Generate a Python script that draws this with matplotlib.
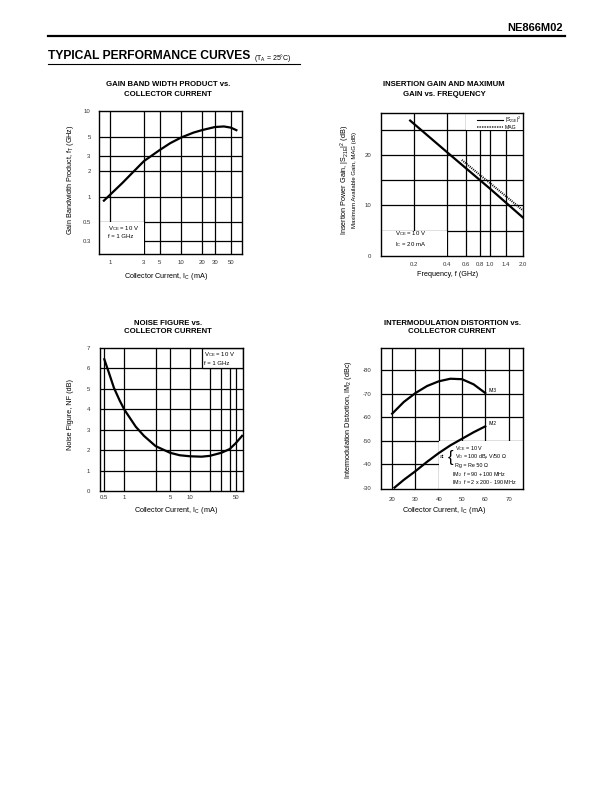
import matplotlib
matplotlib.use('Agg')
import matplotlib.pyplot as plt
from matplotlib.lines import Line2D
from matplotlib.patches import Rectangle

plt.rcParams['font.family'] = ['Liberation Sans', 'DejaVu Sans']
plt.rcParams['mathtext.fontset'] = 'custom'
plt.rcParams['mathtext.rm'] = 'Liberation Sans'
plt.rcParams['mathtext.it'] = 'Liberation Sans:italic'
plt.rcParams['mathtext.bf'] = 'Liberation Sans:bold'
plt.rcParams['mathtext.default'] = 'regular'

W, H = 612, 792

# gain bandwidth product vs collector current
GBW_IC = [0.8, 1, 1.5, 2, 3, 5, 7, 10, 15, 20, 30, 40, 50, 62]
GBW_FT = [0.88, 1.05, 1.45, 1.85, 2.6, 3.5, 4.2, 4.9, 5.6, 6.0, 6.5, 6.6, 6.4, 5.9]
GBW_XTICKS = [1, 3, 5, 10, 20, 30, 50]
GBW_YTICKS = [0.3, 0.5, 1, 2, 3, 5, 10]
GBW_YLABELS = ['0.3', '0.5', '1', '2', '3', '5', '10']

# insertion gain / MAG vs frequency
S21_F = [0.185, 0.4, 1.0, 2.0]
S21_G = [26.8, 20.6, 13.3, 7.6]
MAG_F = [0.55, 0.8, 1.0, 1.4, 2.0]
MAG_G = [19.0, 16.1, 14.4, 11.8, 9.0]
FREQ_TICKS = [0.2, 0.4, 0.6, 0.8, 1.0, 1.4, 2.0]
GAIN_GRID = [5, 10, 15, 20, 25]
GAIN_TICKS = [0, 10, 20]

# noise figure vs collector current
NF_IC = [0.5, 0.6, 0.7, 0.85, 1, 1.5, 2, 3, 5, 7, 10, 15, 20, 30, 40, 50, 62]
NF_DB = [6.45, 5.7, 5.05, 4.45, 4.0, 3.15, 2.7, 2.2, 1.87, 1.75, 1.7, 1.68, 1.72, 1.87, 2.05, 2.35, 2.7]
NF_XGRID = [0.5, 1, 3, 5, 10, 20, 30, 40, 50]
NF_XTICKS = [0.5, 1, 5, 10, 50]

# intermodulation distortion vs collector current
IM3_IC = [20, 25, 30, 35, 40, 45, 50, 55, 60]
IM3_DBC = [-61.5, -66.5, -70.3, -73.3, -75.3, -76.4, -76.2, -74.0, -70.3]
IM2_IC = [21, 25, 30, 35, 40, 45, 50, 55, 60]
IM2_DBC = [-30.0, -33.3, -37.0, -41.0, -44.7, -48.0, -50.8, -53.6, -56.1]
IMD_XTICKS = [20, 30, 40, 50, 60, 70]
IMD_YTICKS = [-80, -70, -60, -50, -40, -30]

fig = plt.figure(figsize=(W / 100, H / 100), dpi=100)


def px_axes(l, t, r, b):
    return fig.add_axes([l / W, 1 - b / H, (r - l) / W, (b - t) / H])


def ftext(x, y, s, **kw):
    kw.setdefault('fontsize', 5)
    kw.setdefault('ha', 'center')
    kw.setdefault('va', 'center')
    fig.text(x / W, 1 - y / H, s, **kw)


def hline(x0, x1, y, lw):
    fig.add_artist(Line2D([x0 / W, x1 / W], [1 - y / H, 1 - y / H], color='black', lw=lw))


def style(ax, xpad, ypad):
    for sp in ax.spines.values():
        sp.set_linewidth(1.0)
    ax.tick_params(length=0, labelsize=4.3, labelcolor='#333333')
    ax.tick_params(axis='x', pad=xpad)
    ax.tick_params(axis='y', pad=ypad)
    ax.minorticks_off()


def grid(ax, xs, ys):
    for x in xs:
        ax.axvline(x, color='black', lw=0.9, zorder=1)
    for y in ys:
        ax.axhline(y, color='black', lw=0.9, zorder=1)


def blank(ax, x0, x1, y0, y1, edge='none'):
    ax.add_patch(Rectangle((x0, y0), x1 - x0, y1 - y0, facecolor='white',
                           edgecolor=edge, lw=0.9, zorder=2))


MAG_STYLE = dict(color='black', ls=(0, (0.45, 0.55)))

# header
ftext(563, 28, 'NE866M02', fontsize=8, fontweight='bold', ha='right')
hline(48, 565, 35.5, 1.6)
ftext(48, 56, 'TYPICAL PERFORMANCE CURVES', fontsize=8.7, fontweight='bold', ha='left')
ftext(254, 57.5, '(T$_A$ = 25°C)', fontsize=5.0, ha='left')
hline(48, 300, 63.5, 0.8)

# chart 1
ax1 = px_axes(99, 111, 242, 254)
ax1.set_xscale('log')
ax1.set_yscale('log')
ax1.set_xlim(0.7, 72)
ax1.set_ylim(0.214, 10)
grid(ax1, GBW_XTICKS, GBW_YTICKS[:-1])
blank(ax1, 0.7, 3, 0.214, 0.5)
ax1.plot(GBW_IC, GBW_FT, color='black', lw=1.6, zorder=3, solid_capstyle='butt')
ax1.set_xticks(GBW_XTICKS, [str(v) for v in GBW_XTICKS])
ax1.set_yticks(GBW_YTICKS, GBW_YLABELS)
style(ax1, 4, 6)
ax1.text(0.06, 0.155, 'V$_{CE}$ = 10 V\nf = 1 GHz', transform=ax1.transAxes,
         fontsize=4.3, va='center', ha='left', linespacing=1.3, zorder=4)
ftext(168, 85, 'GAIN BAND WIDTH PRODUCT vs.', fontsize=5.6, fontweight='bold')
ftext(168, 95, 'COLLECTOR CURRENT', fontsize=5.6, fontweight='bold')
ftext(166, 276, 'Collector Current, I$_C$ (mA)', fontsize=5.2)
ftext(70, 180, 'Gain Bandwidth Product, f$_T$ (GHz)', fontsize=5.2, rotation=90)

# chart 2
ax2 = px_axes(381, 113, 523, 256)
ax2.set_xscale('log')
ax2.set_xlim(0.1, 2.0)
ax2.set_ylim(0, 28.3)
grid(ax2, FREQ_TICKS[:-1], GAIN_GRID)
blank(ax2, 0.1, 0.4, 0, 5)
blank(ax2, 0.6, 2.0, 25, 28.3)
ax2.plot(S21_F, S21_G, color='black', lw=1.6, zorder=3)
ax2.plot(MAG_F, MAG_G, lw=1.5, zorder=3, **MAG_STYLE)
handles = [Line2D([], [], color='black', lw=0.8), Line2D([], [], lw=1.2, **MAG_STYLE)]
leg = ax2.legend(handles, ['|S$_{21E}$|$^2$', 'MAG'], loc='upper right', frameon=False,
                 fontsize=3.7, handlelength=5.0, handletextpad=0.4, borderaxespad=0.1,
                 borderpad=0.2, labelspacing=0.05)
leg.set_zorder(5)
ax2.set_xticks(FREQ_TICKS, ['0.2', '0.4', '0.6', '0.8', '1.0', '1.4', '2.0'])
ax2.set_yticks(GAIN_TICKS, [str(v) for v in GAIN_TICKS])
style(ax2, 4, 7)
ax2.text(0.1, 0.12, 'V$_{CE}$ = 10 V\nI$_C$ = 20 mA', transform=ax2.transAxes,
         fontsize=4.3, va='center', ha='left', linespacing=1.3, zorder=4)
ftext(444, 85, 'INSERTION GAIN AND MAXIMUM', fontsize=5.6, fontweight='bold')
ftext(444, 94, 'GAIN vs. FREQUENCY', fontsize=5.6, fontweight='bold')
ftext(448, 275, 'Frequency, f (GHz)', fontsize=5.2)
ftext(345, 180, 'Insertion Power Gain, |S$_{21E}$|$^2$ (dB)', fontsize=5.2, rotation=90)
ftext(354.5, 180, 'Maximum Available Gain, MAG (dB)', fontsize=4.3, rotation=90)

# chart 3
ax3 = px_axes(100, 348, 243, 491)
ax3.set_xscale('log')
ax3.set_xlim(0.43, 64)
ax3.set_ylim(0, 7)
grid(ax3, NF_XGRID, range(1, 7))
blank(ax3, 15, 64, 6, 7, edge='black')
ax3.plot(NF_IC, NF_DB, color='black', lw=1.6, zorder=3)
ax3.set_xticks(NF_XTICKS, ['0.5', '1', '5', '10', '50'])
ax3.set_yticks(range(0, 8), [str(v) for v in range(0, 8)])
style(ax3, 3, 7)
ax3.text(0.725, 0.93, 'V$_{CE}$ = 10 V\nf = 1 GHz', transform=ax3.transAxes,
         fontsize=4.3, va='center', ha='left', linespacing=1.3, zorder=4)
ftext(168, 323, 'NOISE FIGURE vs.', fontsize=5.6, fontweight='bold')
ftext(168, 332, 'COLLECTOR CURRENT', fontsize=5.6, fontweight='bold')
ftext(176, 511, 'Collector Current, I$_C$ (mA)', fontsize=5.2)
ftext(70, 415, 'Noise Figure, NF (dB)', fontsize=5.2, rotation=90)

# chart 4
ax4 = px_axes(381, 348, 523, 489)
ax4.set_xlim(15.2, 76.2)
ax4.set_ylim(-29.4, -89.5)
grid(ax4, IMD_XTICKS, IMD_YTICKS[:-1])
blank(ax4, 40, 76.2, -29.4, -50)
ax4.plot(IM3_IC, IM3_DBC, color='black', lw=1.6, zorder=3)
ax4.plot(IM2_IC, IM2_DBC, color='black', lw=1.6, zorder=3)
ax4.text(IM3_IC[-1] + 1.5, IM3_DBC[-1], 'IM3', fontsize=3.5, va='bottom', ha='left', zorder=4)
ax4.text(IM2_IC[-1] + 1.5, IM2_DBC[-1], 'IM2', fontsize=3.5, va='bottom', ha='left', zorder=4)
ax4.set_xticks(IMD_XTICKS, [str(v) for v in IMD_XTICKS])
ax4.set_yticks(IMD_YTICKS, [str(v) for v in IMD_YTICKS])
style(ax4, 6, 7)
ftext(442, 457, 'at', fontsize=3.9)
ftext(450, 457.5, '{', fontsize=12, fontweight='light')
ftext(455, 449, 'V$_{CE}$ = 10 V', fontsize=3.9, ha='left')
ftext(455, 457.5, 'V$_O$ = 100 dB$_{\\mu}$ V/50 Ω', fontsize=3.9, ha='left')
ftext(455, 466, 'Rg = Re 50 Ω', fontsize=3.9, ha='left')
ftext(452, 474.5, 'IM$_2$  f = 90 + 100 MHz', fontsize=3.9, ha='left')
ftext(452, 483, 'IM$_3$  f = 2 x 200 - 190 MHz', fontsize=3.9, ha='left')
ftext(452, 323, 'INTERMODULATION DISTORTION vs.', fontsize=5.6, fontweight='bold')
ftext(452, 332, 'COLLECTOR CURRENT', fontsize=5.6, fontweight='bold')
ftext(444, 511, 'Collector Current, I$_C$ (mA)', fontsize=5.2)
ftext(348, 420, 'Intermodulation Distortion, IM$_2$ (dBc)', fontsize=5.2, rotation=90)

fig.savefig('out.png', dpi=100)
